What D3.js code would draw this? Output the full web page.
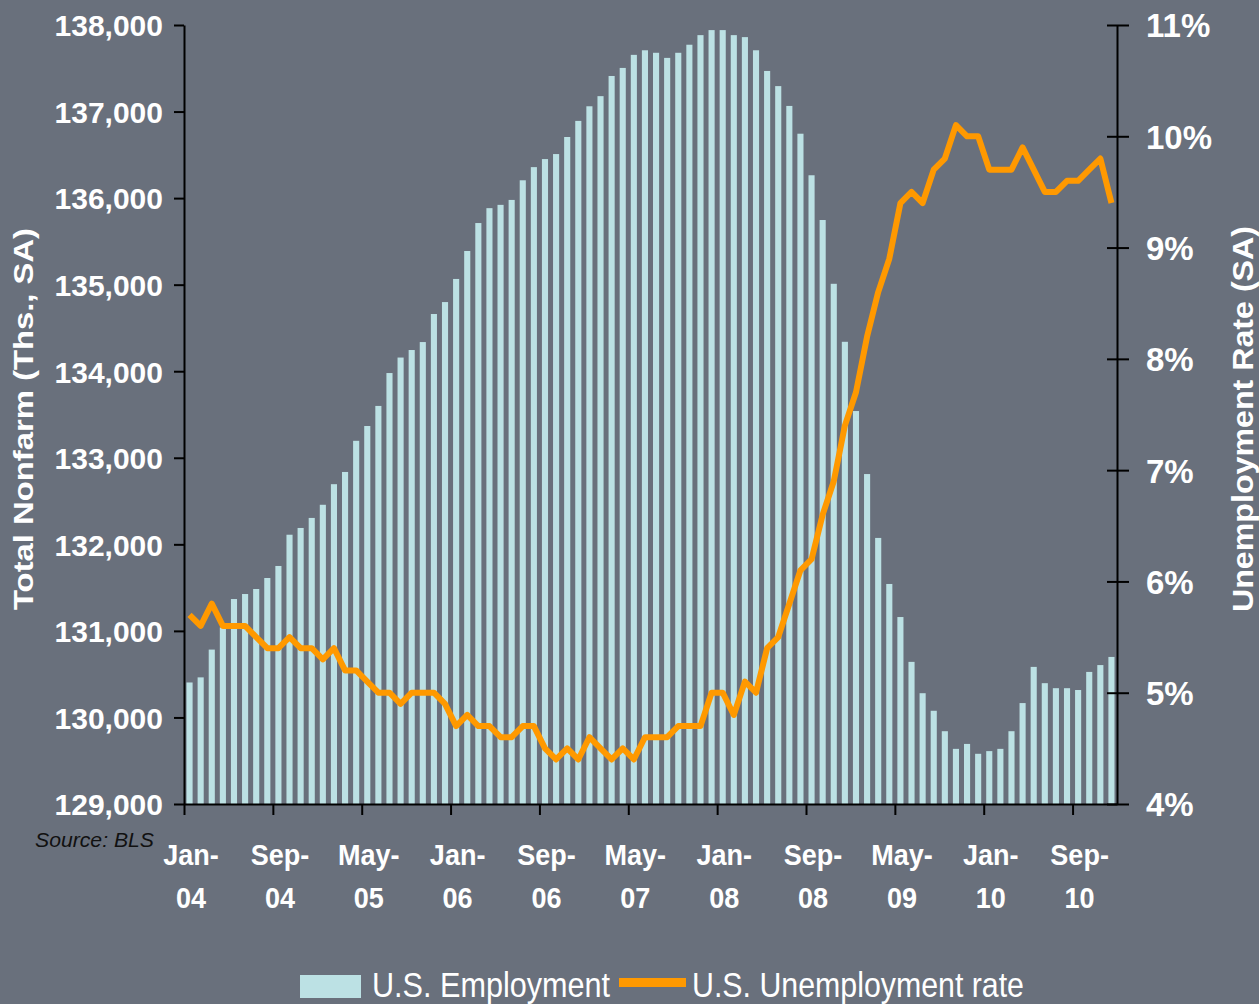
<!DOCTYPE html>
<html>
<head>
<meta charset="utf-8">
<script src="https://cdn.jsdelivr.net/npm/d3@7"></script>
<style>
  html, body { margin: 0; padding: 0; background: #69707c; }
  svg { display: block; }
  text { font-family: "Liberation Sans", Arial, sans-serif; }
</style>
</head>
<body>
<svg id="chart" width="1259" height="1004"></svg>
<script>
// ---- Data ----
const months = [
  "Jan-04","Feb-04","Mar-04","Apr-04","May-04","Jun-04","Jul-04","Aug-04","Sep-04","Oct-04","Nov-04","Dec-04",
  "Jan-05","Feb-05","Mar-05","Apr-05","May-05","Jun-05","Jul-05","Aug-05","Sep-05","Oct-05","Nov-05","Dec-05",
  "Jan-06","Feb-06","Mar-06","Apr-06","May-06","Jun-06","Jul-06","Aug-06","Sep-06","Oct-06","Nov-06","Dec-06",
  "Jan-07","Feb-07","Mar-07","Apr-07","May-07","Jun-07","Jul-07","Aug-07","Sep-07","Oct-07","Nov-07","Dec-07",
  "Jan-08","Feb-08","Mar-08","Apr-08","May-08","Jun-08","Jul-08","Aug-08","Sep-08","Oct-08","Nov-08","Dec-08",
  "Jan-09","Feb-09","Mar-09","Apr-09","May-09","Jun-09","Jul-09","Aug-09","Sep-09","Oct-09","Nov-09","Dec-09",
  "Jan-10","Feb-10","Mar-10","Apr-10","May-10","Jun-10","Jul-10","Aug-10","Sep-10","Oct-10","Nov-10","Dec-10"
];

// Total nonfarm employment (thousands, SA)
const employment = [
  130404,130463,130784,131040,131368,131426,131484,131611,131750,132111,132189,132305,
  132457,132695,132836,133196,133367,133599,133979,134158,134245,134337,134661,134799,
  135066,135389,135712,135884,135922,135979,136206,136358,136451,136509,136706,136892,
  137061,137178,137411,137504,137655,137708,137679,137620,137679,137772,137883,137941,
  137941,137883,137860,137708,137469,137294,137065,136744,136264,135747,135010,134340,
  133540,132812,132074,131542,131160,130642,130280,130077,129841,129637,129694,129580,
  129611,129637,129841,130166,130584,130396,130338,130338,130317,130526,130605,130699
];

// Unemployment rate (%, SA)
const unemployment = [
  5.7,5.6,5.8,5.6,5.6,5.6,5.5,5.4,5.4,5.5,5.4,5.4,
  5.3,5.4,5.2,5.2,5.1,5.0,5.0,4.9,5.0,5.0,5.0,4.9,
  4.7,4.8,4.7,4.7,4.6,4.6,4.7,4.7,4.5,4.4,4.5,4.4,
  4.6,4.5,4.4,4.5,4.4,4.6,4.6,4.6,4.7,4.7,4.7,5.0,
  5.0,4.8,5.1,5.0,5.4,5.5,5.8,6.1,6.2,6.6,6.9,7.4,
  7.7,8.2,8.6,8.9,9.4,9.5,9.4,9.7,9.8,10.1,10.0,10.0,
  9.7,9.7,9.7,9.9,9.7,9.5,9.5,9.6,9.6,9.7,9.8,9.4
];

const leftTicks = [129000,130000,131000,132000,133000,134000,135000,136000,137000,138000];
const rightTicks = [4,5,6,7,8,9,10,11];
const xTickLabels = [
  ["Jan-","04"],["Sep-","04"],["May-","05"],["Jan-","06"],["Sep-","06"],["May-","07"],
  ["Jan-","08"],["Sep-","08"],["May-","09"],["Jan-","10"],["Sep-","10"]
];
const xTickMonths = ["Jan-04","Sep-04","May-05","Jan-06","Sep-06","May-07","Jan-08","Sep-08","May-09","Jan-10","Sep-10"];

// ---- Layout ----
const W = 1259, H = 1004;
const X0 = 184, X1 = 1117, YTOP = 25, YBOT = 804;
const BG = "#69707c", BAR = "#bce1e4", LINE = "#ff9900";

const svg = d3.select("#chart");
svg.append("rect").attr("width", W).attr("height", H).attr("fill", BG);

const x = d3.scaleBand().domain(months).range([X0, X1]).paddingInner(0.45).paddingOuter(0.225);
const xIdx = d3.scaleLinear().domain([0, months.length]).range([X0, X1]);
const yL = d3.scaleLinear().domain([129000, 138000]).range([YBOT, YTOP]);
const yR = d3.scaleLinear().domain([4, 11]).range([YBOT, YTOP]);

// Bars
svg.append("g").selectAll("rect")
  .data(employment)
  .join("rect")
  .attr("x", (d, i) => x(months[i]))
  .attr("width", x.bandwidth())
  .attr("y", d => yL(d))
  .attr("height", d => YBOT - yL(d))
  .attr("fill", BAR);

// Line
const line = d3.line()
  .x((d, i) => x(months[i]) + x.bandwidth() / 2)
  .y(d => yR(d));
svg.append("path")
  .datum(unemployment)
  .attr("d", line)
  .attr("fill", "none")
  .attr("stroke", LINE)
  .attr("stroke-width", 6)
  .attr("stroke-linejoin", "round");

// Axes styling helper
function styleAxis(g) {
  g.selectAll("path.domain").attr("stroke", "#000").attr("stroke-width", 2);
  g.selectAll(".tick line").attr("stroke", "#000").attr("stroke-width", 2);
}

// Left axis
const gL = svg.append("g").attr("transform", `translate(${X0},0)`)
  .call(d3.axisLeft(yL).tickValues(leftTicks).tickSize(10).tickSizeOuter(0).tickPadding(11)
    .tickFormat(d3.format(",")));
styleAxis(gL);
gL.selectAll(".tick text")
  .attr("fill", "#fff").attr("font-size", 30).attr("font-weight", "bold")
  .attr("font-family", "'Liberation Sans', Arial, sans-serif")
  .attr("dy", "0.36em");

// Right axis
const gR = svg.append("g").attr("transform", `translate(${X1},0)`)
  .call(d3.axisRight(yR).tickValues(rightTicks).tickSize(12).tickSizeOuter(0).tickPadding(17)
    .tickFormat(d => d + "%"));
styleAxis(gR);
gR.selectAll(".tick line").attr("x1", -10);
gR.selectAll(".tick text")
  .attr("fill", "#fff").attr("font-size", 33).attr("font-weight", "bold")
  .attr("font-family", "'Liberation Sans', Arial, sans-serif")
  .attr("dy", "0.36em");

// Bottom axis
const gB = svg.append("g").attr("transform", `translate(0,${YBOT})`)
  .call(d3.axisBottom(xIdx).tickValues(xTickMonths.map(m => months.indexOf(m)))
    .tickSize(11).tickSizeOuter(0).tickFormat(""));
styleAxis(gB);

// X labels (two lines, condensed bold)
const xl = svg.append("g");
xTickMonths.forEach((m, k) => {
  const cx = x(m) + x.bandwidth() / 2 + 1.5;
  const parts = xTickLabels[k];
  [[parts[0], 865], [parts[1], 908]].forEach(([txt, yy]) => {
    const t = xl.append("text")
      .attr("x", cx).attr("y", yy)
      .attr("text-anchor", "middle")
      .attr("fill", "#fff").attr("font-size", 30).attr("font-weight", "bold")
      .text(txt);
    const len = t.node().getComputedTextLength();
    t.attr("textLength", len * 0.9).attr("lengthAdjust", "spacingAndGlyphs");
  });
});

// Axis titles
svg.append("text")
  .attr("transform", "translate(33,419) rotate(-90)")
  .attr("text-anchor", "middle")
  .attr("fill", "#fff").attr("font-size", 27).attr("font-weight", "bold")
  .attr("textLength", 382).attr("lengthAdjust", "spacingAndGlyphs")
  .text("Total Nonfarm (Ths., SA)");

svg.append("text")
  .attr("transform", "translate(1253,419) rotate(-90)")
  .attr("text-anchor", "middle")
  .attr("fill", "#fff").attr("font-size", 29).attr("font-weight", "bold")
  .attr("textLength", 386).attr("lengthAdjust", "spacingAndGlyphs")
  .text("Unemployment Rate (SA)");

// Source
svg.append("text")
  .attr("x", 35).attr("y", 847)
  .attr("fill", "#111").attr("font-size", 21).attr("font-style", "italic")
  .attr("textLength", 119).attr("lengthAdjust", "spacingAndGlyphs")
  .text("Source: BLS");

// Legend
const lg = svg.append("g");
lg.append("rect").attr("x", 300).attr("y", 975).attr("width", 61).attr("height", 23).attr("fill", BAR);
lg.append("text").attr("x", 372).attr("y", 997)
  .attr("fill", "#fff").attr("font-size", 35)
  .attr("textLength", 238).attr("lengthAdjust", "spacingAndGlyphs")
  .text("U.S. Employment");
lg.append("rect").attr("x", 619).attr("y", 978).attr("width", 67).attr("height", 9).attr("fill", LINE);
lg.append("text").attr("x", 692).attr("y", 997)
  .attr("fill", "#fff").attr("font-size", 35)
  .attr("textLength", 332).attr("lengthAdjust", "spacingAndGlyphs")
  .text("U.S. Unemployment rate");
</script>
</body>
</html>
